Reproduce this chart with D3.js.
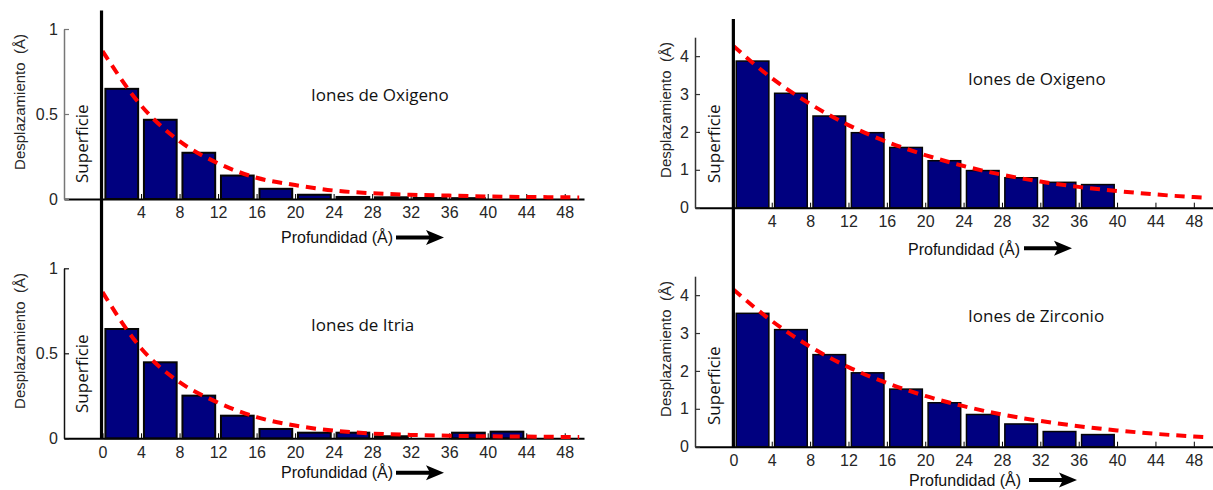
<!DOCTYPE html>
<html>
<head>
<meta charset="utf-8">
<script src="https://cdn.jsdelivr.net/npm/d3@7"></script>
<style>
  html, body { margin: 0; padding: 0; background: #fff; }
  svg { display: block; }
</style>
</head>
<body>
<svg id="chart" width="1213" height="490"></svg>
<script>
// Depth bins (Å): each bar covers [start, start + 4)
const binStarts = [0, 4, 8, 12, 16, 20, 24, 28, 32, 36, 40, 44];
// Depth points of the fitted decay curves
const curveDepths = [0, 4, 8, 12, 16, 20, 24, 28, 32, 36, 40, 44, 48, 49.5];

// Tick labels
const depthTicksFull = [0, 4, 8, 12, 16, 20, 24, 28, 32, 36, 40, 44, 48];
const depthTicksNoZero = [4, 8, 12, 16, 20, 24, 28, 32, 36, 40, 44, 48];
const smallDispTicks = [0, 0.5, 1];
const largeDispTicks = [0, 1, 2, 3, 4];

// Displacement per bin (Å)
const oxigenoBajo = [0.648, 0.466, 0.272, 0.138, 0.060, 0.025, 0.012, 0.010, 0.006, 0.005, 0, 0];
const itria = [0.643, 0.447, 0.251, 0.133, 0.055, 0.033, 0.033, 0.012, 0, 0.033, 0.039, 0];
const oxigenoAlto = [3.87, 3.02, 2.42, 1.98, 1.59, 1.24, 0.98, 0.79, 0.67, 0.61, 0, 0];
const zirconio = [3.52, 3.09, 2.43, 1.95, 1.52, 1.16, 0.85, 0.60, 0.40, 0.32, 0, 0];

// Fitted curves
const ajusteOxigenoBajo = [0.87, 0.55, 0.34, 0.21, 0.125, 0.082, 0.05, 0.034, 0.025, 0.02, 0.015, 0.012, 0.01, 0.009];
const ajusteItria = [0.86, 0.53, 0.33, 0.21, 0.125, 0.075, 0.045, 0.028, 0.02, 0.015, 0.012, 0.01, 0.008, 0.007];
const ajusteOxigenoAlto = [4.27, 3.42, 2.74, 2.18, 1.74, 1.39, 1.10, 0.87, 0.69, 0.55, 0.44, 0.35, 0.28, 0.26];
const ajusteZirconio = [4.15, 3.32, 2.64, 2.10, 1.68, 1.34, 1.07, 0.85, 0.68, 0.54, 0.43, 0.34, 0.27, 0.25];

const svg = d3.select("#chart");

const panels = [
  {
    bars: oxigenoBajo, fit: ajusteOxigenoBajo, title: "Iones de Oxigeno",
    xRange: [64, 584], yRange: [199, 29], yMax: 1, yTicks: smallDispTicks, xTicks: depthTicksNoZero,
    yAxisColor: "#777", barStroke: 2,
    titlePos: [311, 101], supPos: [88, 183], ylabPos: [25, 102], profPos: [281, 243.3], arrow: [396, 444, 237.5]
  },
  {
    bars: itria, fit: ajusteItria, title: "Iones de Itria",
    xRange: [64, 584], yRange: [438.3, 268.3], yMax: 1, yTicks: smallDispTicks, xTicks: depthTicksFull,
    yAxisColor: "#111", barStroke: 2,
    titlePos: [311, 331], supPos: [88, 413], ylabPos: [25, 341], profPos: [281, 478.3], arrow: [396, 444, 472.7]
  },
  {
    bars: oxigenoAlto, fit: ajusteOxigenoAlto, title: "Iones de Oxigeno",
    xRange: [695, 1213], yRange: [207.7, 37.2], yMax: 4.5, yTicks: largeDispTicks, xTicks: depthTicksNoZero,
    yAxisColor: "#333", barStroke: 1.5,
    titlePos: [968, 85], supPos: [720, 183], ylabPos: [671, 110], profPos: [908, 254.5], arrow: [1024, 1072, 248.3]
  },
  {
    bars: zirconio, fit: ajusteZirconio, title: "Iones de Zirconio",
    xRange: [695, 1213], yRange: [446.7, 276.2], yMax: 4.5, yTicks: largeDispTicks, xTicks: depthTicksFull,
    yAxisColor: "#333", barStroke: 1.5,
    titlePos: [968, 322], supPos: [720, 425], ylabPos: [671, 349], profPos: [909, 486], arrow: [1029, 1077, 480]
  }
];

const tickFont = "'Liberation Sans', Arial, sans-serif";
const textColor = "#262626";

panels.forEach(p => {
  const x = d3.scaleLinear().domain([-4, 50]).range(p.xRange);
  const y = d3.scaleLinear().domain([0, p.yMax]).range(p.yRange);
  const g = svg.append("g");

  // x axis (ticks point up into the plot)
  const xAxis = g.append("g")
    .attr("transform", `translate(0,${p.yRange[0]})`)
    .call(d3.axisBottom(x).tickValues(p.xTicks).tickSizeInner(-5).tickSizeOuter(0).tickPadding(8));
  xAxis.select(".domain").attr("stroke", "#000").attr("stroke-width", 2);
  xAxis.selectAll(".tick line").attr("stroke", "#000").attr("stroke-width", 1);
  xAxis.selectAll(".tick text")
    .attr("font-family", tickFont).attr("font-size", 16).attr("fill", textColor);

  // y axis (ticks point right into the plot)
  const yAxis = g.append("g")
    .attr("transform", `translate(${p.xRange[0]},0)`)
    .call(d3.axisLeft(y).tickValues(p.yTicks).tickSizeInner(-5).tickSizeOuter(0).tickPadding(6)
      .tickFormat(d3.format("~g")));
  yAxis.select(".domain").attr("stroke", p.yAxisColor).attr("stroke-width", 1.5);
  yAxis.selectAll(".tick line").attr("stroke", p.yAxisColor).attr("stroke-width", 1.2);
  yAxis.selectAll(".tick text")
    .attr("font-family", tickFont).attr("font-size", 16).attr("fill", textColor);

  // bars
  const barData = binStarts.map((s, i) => ({ s, v: p.bars[i] })).filter(d => d.v > 0);
  g.append("g").selectAll("rect")
    .data(barData)
    .join("rect")
    .attr("x", d => x(d.s + 0.3))
    .attr("width", d => x(d.s + 3.7) - x(d.s + 0.3))
    .attr("y", d => y(d.v))
    .attr("height", d => y(0) - y(d.v))
    .attr("fill", "#00007f")
    .attr("stroke", "#050505")
    .attr("stroke-width", p.barStroke);

  // fitted decay curve
  const line = d3.line()
    .x((d, i) => x(curveDepths[i]))
    .y(d => y(d))
    .curve(d3.curveMonotoneX);
  g.append("path")
    .datum(p.fit)
    .attr("d", line)
    .attr("fill", "none")
    .attr("stroke", "#ff0000")
    .attr("stroke-width", 4)
    .attr("stroke-dasharray", "10,7");

  // panel title
  g.append("text")
    .attr("x", p.titlePos[0]).attr("y", p.titlePos[1])
    .attr("font-family", "'Open Sans', sans-serif").attr("font-size", 17)
    .attr("fill", "#111")
    .text(p.title);

  // surface label
  g.append("text")
    .attr("transform", `translate(${p.supPos[0]},${p.supPos[1]}) rotate(-90)`)
    .attr("font-family", "'Open Sans', sans-serif").attr("font-size", 17)
    .attr("fill", "#111")
    .text("Superficie");

  // y axis label
  g.append("text")
    .attr("transform", `translate(${p.ylabPos[0]},${p.ylabPos[1]}) rotate(-90)`)
    .attr("text-anchor", "middle")
    .attr("font-family", tickFont).attr("font-size", 15)
    .attr("fill", textColor)
    .attr("xml:space", "preserve")
    .text("Desplazamiento  (Å)");

  // depth label with arrow
  g.append("text")
    .attr("x", p.profPos[0]).attr("y", p.profPos[1])
    .attr("font-family", tickFont).attr("font-size", 16)
    .attr("fill", "#111")
    .text("Profundidad (Å)");
  const [ax0, ax1, ay] = p.arrow;
  g.append("line")
    .attr("x1", ax0).attr("x2", ax1 - 12).attr("y1", ay).attr("y2", ay)
    .attr("stroke", "#000").attr("stroke-width", 4);
  g.append("path")
    .attr("d", `M${ax1},${ay} L${ax1 - 18},${ay - 7.5} L${ax1 - 14},${ay} L${ax1 - 18},${ay + 7.5} Z`)
    .attr("fill", "#000");
});

// thick surface markers spanning both panels of each column
const xl = d3.scaleLinear().domain([-4, 50]).range(panels[0].xRange);
const xr = d3.scaleLinear().domain([-4, 50]).range(panels[2].xRange);
svg.append("line")
  .attr("x1", xl(0) - 1).attr("x2", xl(0) - 1).attr("y1", 10.5).attr("y2", 439)
  .attr("stroke", "#000").attr("stroke-width", 3.2);
svg.append("line")
  .attr("x1", xr(0)).attr("x2", xr(0)).attr("y1", 19).attr("y2", 447.5)
  .attr("stroke", "#000").attr("stroke-width", 3.2);
</script>
</body>
</html>
